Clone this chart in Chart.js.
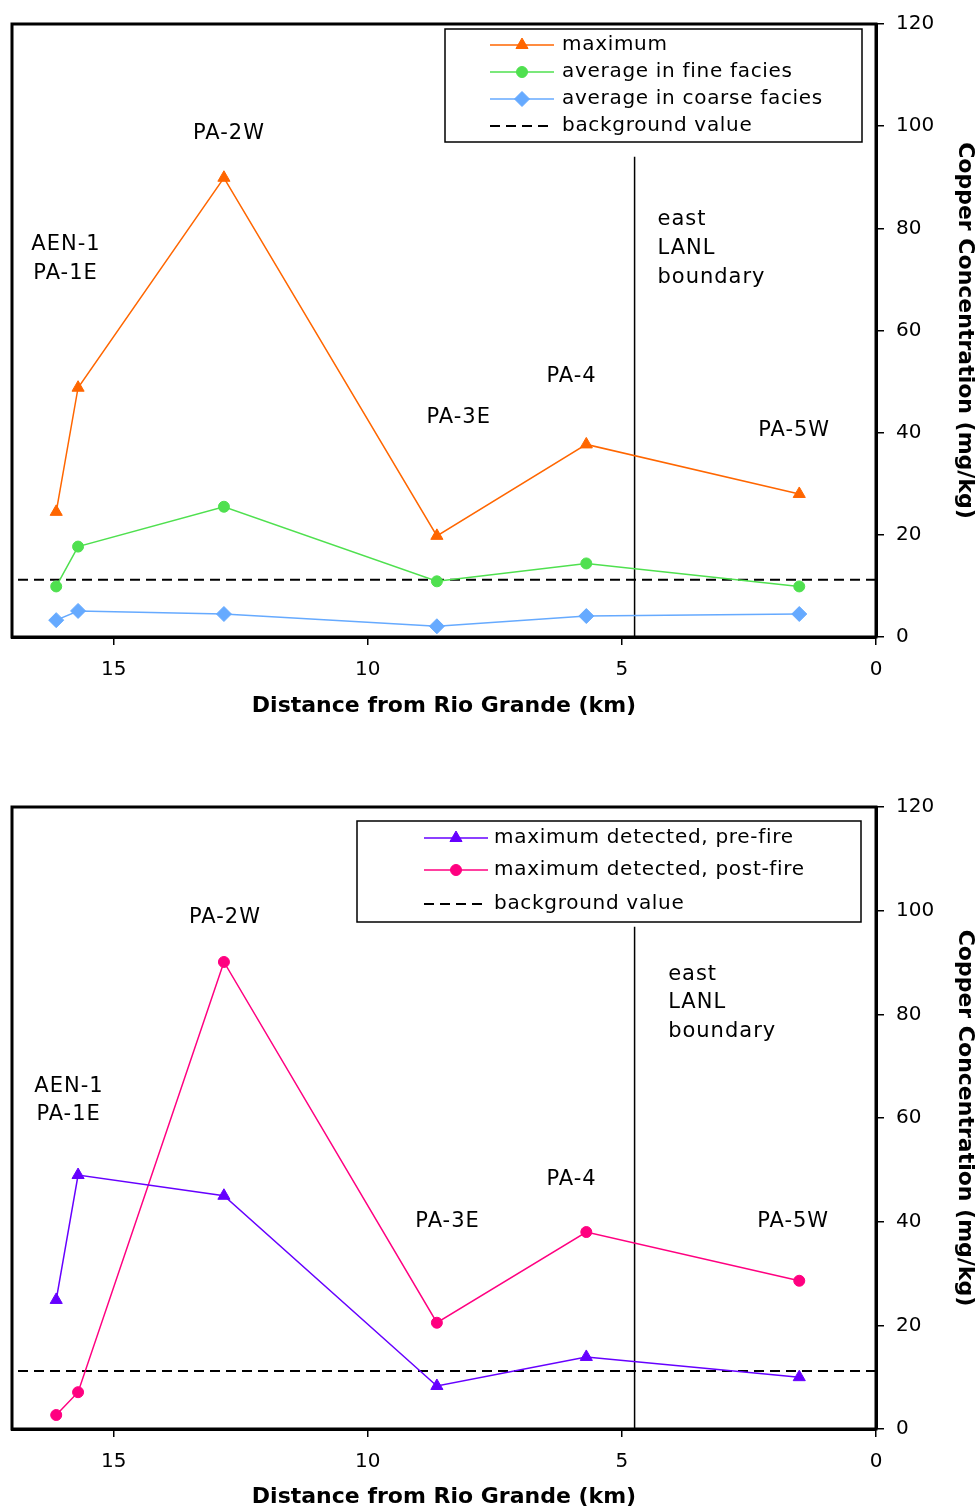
<!DOCTYPE html>
<html>
<head>
<meta charset="utf-8">
<script src="https://cdn.jsdelivr.net/npm/chart.js@4.4.0/dist/chart.umd.min.js"></script>
<style>
  body { margin: 0; background: #fff; width: 979px; height: 1510px; position: relative; overflow: hidden; }
  canvas { position: absolute; left: 0; }
</style>
</head>
<body>
<canvas id="topChart" width="979" height="730" style="top:0"></canvas>
<canvas id="bottomChart" width="979" height="750" style="top:760px"></canvas>
<script>
// DATA (distance from Rio Grande in km, copper in mg/kg)
const distanceKm   = [16.13, 15.70, 12.83, 8.64, 5.70, 1.51];
const maximum      = [24.5, 48.8, 89.9, 19.8, 37.7, 28.0];
const fineAverage  = [9.9, 17.7, 25.5, 10.9, 14.4, 9.9];
const coarseAverage = [3.3, 5.1, 4.5, 2.1, 4.1, 4.5];
const preFireMax   = [24.9, 49.0, 45.0, 8.3, 13.9, 10.0];
const postFireMax  = [2.7, 7.1, 90.1, 20.5, 38.0, 28.6];
const backgroundValue = 11.2;
const boundaryKm = 4.75;
const xTickValues = [0, 5, 10, 15];
const yTickStep = 20;

// site labels, in data units
const topSiteLabels = [
  { text: 'PA-2W', x: 12.73, y: 98.6, align: 'center' },
  { text: 'AEN-1', x: 16.62, y: 76.8, align: 'left' },
  { text: 'PA-1E', x: 16.58, y: 71.2, align: 'left' },
  { text: 'PA-3E', x: 8.21, y: 43.0, align: 'center' },
  { text: 'PA-4', x: 5.99, y: 51.0, align: 'center' },
  { text: 'PA-5W', x: 1.61, y: 40.5, align: 'center' },
  { text: 'east', x: 4.30, y: 81.7, align: 'left' },
  { text: 'LANL', x: 4.30, y: 76.1, align: 'left' },
  { text: 'boundary', x: 4.30, y: 70.4, align: 'left' }
];
const bottomSiteLabels = [
  { text: 'PA-2W', x: 12.81, y: 98.6, align: 'center' },
  { text: 'AEN-1', x: 16.56, y: 66.0, align: 'left' },
  { text: 'PA-1E', x: 16.52, y: 60.6, align: 'left' },
  { text: 'PA-3E', x: 8.43, y: 40.1, align: 'center' },
  { text: 'PA-4', x: 5.99, y: 48.2, align: 'center' },
  { text: 'PA-5W', x: 1.63, y: 40.1, align: 'center' },
  { text: 'east', x: 4.09, y: 87.6, align: 'left' },
  { text: 'LANL', x: 4.09, y: 82.2, align: 'left' },
  { text: 'boundary', x: 4.09, y: 76.6, align: 'left' }
];

const FONT = '"DejaVu Sans", Verdana, sans-serif';

function points(xs, ys) {
  return xs.map((x, i) => ({ x: x, y: ys[i] }));
}

function series(label, values, color, style, radius) {
  return {
    label: label,
    data: points(distanceKm, values),
    borderColor: color,
    backgroundColor: color,
    borderWidth: 1.5,
    pointStyle: style,
    pointRadius: radius,
    pointBorderWidth: 1,
    tension: 0
  };
}

function backgroundLine() {
  return {
    label: 'background value',
    data: [{ x: 0, y: backgroundValue }, { x: 17, y: backgroundValue }],
    borderColor: '#000',
    borderWidth: 2,
    borderDash: [10, 6],
    pointRadius: 0
  };
}

function boundaryLine(top) {
  return {
    label: 'boundary',
    inLegend: false,
    data: [{ x: boundaryKm, y: 0 }, { x: boundaryKm, y: top }],
    borderColor: '#000',
    borderWidth: 1.5,
    pointRadius: 0
  };
}

// frame, site labels and boxed legend
function extras(siteLabels, legend) {
  return {
    id: 'extras',
    afterDraw(chart) {
      const { ctx, chartArea: a } = chart;
      const xs = chart.scales.x, ys = chart.scales.y;
      ctx.save();
      ctx.strokeStyle = '#000';
      ctx.lineWidth = 3;
      ctx.strokeRect(a.left, a.top, a.right - a.left, a.bottom - a.top);

      ctx.fillStyle = '#000';
      ctx.font = '21px ' + FONT;
      ctx.letterSpacing = '1px';
      ctx.textBaseline = 'middle';
      siteLabels.forEach(l => {
        ctx.textAlign = l.align;
        ctx.fillText(l.text, xs.getPixelForValue(l.x), ys.getPixelForValue(l.y));
      });

      // legend box
      ctx.fillStyle = '#fff';
      ctx.fillRect(legend.x0, legend.y0, legend.x1 - legend.x0, legend.y1 - legend.y0);
      ctx.strokeStyle = '#000';
      ctx.lineWidth = 1.5;
      ctx.strokeRect(legend.x0, legend.y0, legend.x1 - legend.x0, legend.y1 - legend.y0);
      ctx.font = '20px ' + FONT;
      ctx.letterSpacing = '0.7px';
      ctx.textAlign = 'left';
      const shown = chart.data.datasets.filter(d => d.inLegend !== false);
      shown.forEach((d, i) => {
        const yy = legend.rows[i];
        ctx.strokeStyle = d.borderColor;
        ctx.lineWidth = d.borderWidth;
        ctx.setLineDash(d.borderDash || []);
        ctx.beginPath();
        ctx.moveTo(legend.s0, yy);
        ctx.lineTo(legend.s1, yy);
        ctx.stroke();
        ctx.setLineDash([]);
        if (d.pointRadius > 0) {
          ctx.fillStyle = d.backgroundColor;
          ctx.lineWidth = 1;
          Chart.helpers.drawPoint(ctx, { pointStyle: d.pointStyle, radius: d.pointRadius, rotation: 0, borderWidth: 1 },
            (legend.s0 + legend.s1) / 2, yy);
        }
        ctx.fillStyle = '#000';
        ctx.fillText(d.label, legend.tx, yy);
      });
      ctx.restore();
    }
  };
}

function makeOptions(padTop, xAxisHeight, titleBottom) {
  return {
    responsive: false,
    animation: false,
    events: [],
    layout: { padding: { left: 12, top: padTop, right: 0, bottom: 0 } },
    plugins: { legend: { display: false }, tooltip: { enabled: false } },
    scales: {
      x: {
        type: 'linear',
        reverse: true,
        min: 0,
        max: 17,
        afterBuildTicks: s => { s.ticks = xTickValues.map(v => ({ value: v })); },
        afterFit: s => { s.height = xAxisHeight; },
        grid: { drawOnChartArea: false, drawTicks: true, tickLength: 8, color: '#000', lineWidth: 1.5 },
        border: { display: true, color: '#000', width: 3 },
        ticks: { color: '#000', font: { family: FONT, size: 20 }, padding: 13, maxRotation: 0 },
        title: {
          display: true,
          text: 'Distance from Rio Grande (km)',
          color: '#000',
          font: { family: FONT, size: 22, weight: 'bold' },
          padding: { top: 0, bottom: titleBottom }
        }
      },
      y: {
        position: 'right',
        min: 0,
        max: 120,
        afterFit: s => { s.width = 103; },
        grid: { drawOnChartArea: false, drawTicks: true, tickLength: 8, color: '#000', lineWidth: 1.5 },
        border: { display: true, color: '#000', width: 3 },
        ticks: { stepSize: yTickStep, color: '#000', font: { family: FONT, size: 20 }, padding: 12 },
        title: {
          display: true,
          text: 'Copper Concentration (mg/kg)',
          color: '#000',
          font: { family: FONT, size: 22, weight: 'bold' },
          padding: { top: 1, bottom: 0 }
        }
      }
    }
  };
}

// TOP CHART
new Chart(document.getElementById('topChart'), {
  type: 'line',
  data: {
    datasets: [
      series('maximum', maximum, '#FF6600', 'triangle', 7),
      series('average in fine facies', fineAverage, '#4FE04F', 'circle', 5.5),
      series('average in coarse facies', coarseAverage, '#66AAFF', 'rectRot', 7.5),
      backgroundLine(),
      boundaryLine(94)
    ]
  },
  options: makeOptions(20, 93, 11),
  plugins: [extras(topSiteLabels, {
    x0: 445, y0: 29, x1: 862, y1: 142,
    rows: [45, 72, 99, 126], s0: 490, s1: 554, tx: 562
  })]
});

// BOTTOM CHART
new Chart(document.getElementById('bottomChart'), {
  type: 'line',
  data: {
    datasets: [
      series('maximum detected, pre-fire', preFireMax, '#6600FF', 'triangle', 7),
      series('maximum detected, post-fire', postFireMax, '#FF0080', 'circle', 5.5),
      backgroundLine(),
      boundaryLine(96.9)
    ]
  },
  options: makeOptions(47, 81, 0),
  plugins: [extras(bottomSiteLabels, {
    x0: 357, y0: 61, x1: 861, y1: 162,
    rows: [78, 110, 144], s0: 424, s1: 488, tx: 494
  })]
});
</script>
</body>
</html>
